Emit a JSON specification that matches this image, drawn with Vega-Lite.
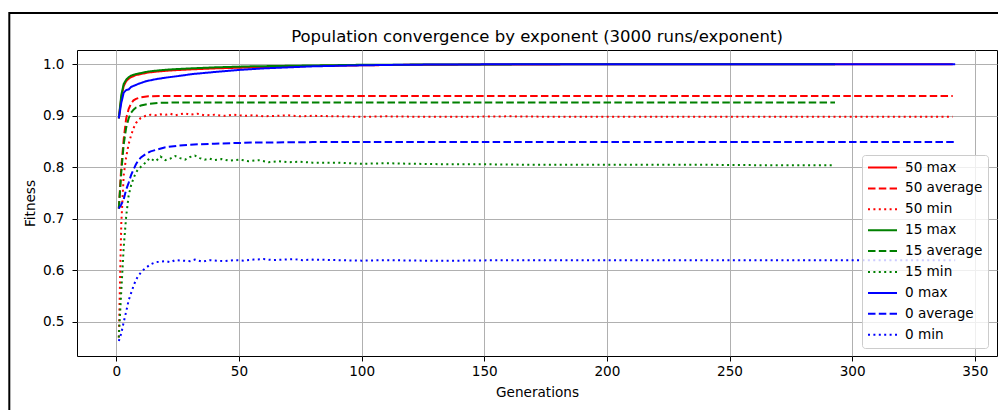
{
  "$schema": "https://vega.github.io/schema/vega-lite/v6.json",
  "width": 920,
  "height": 306,
  "autosize": "none",
  "padding": {"left": 77, "top": 50, "right": 1, "bottom": 54},
  "background": "white",
  "title": {
    "text": "Population convergence by exponent (3000 runs/exponent)",
    "fontSize": 16.5,
    "fontWeight": "normal",
    "font": "DejaVu Sans",
    "color": "black",
    "frame": "group",
    "anchor": "middle",
    "offset": 6,
    "dy": 40
  },
  "config": {
    "font": "DejaVu Sans",
    "view": {"stroke": "black", "strokeWidth": 1},
    "axis": {
      "domain": false,
      "grid": true,
      "gridColor": "#b0b0b0",
      "gridWidth": 1,
      "tickColor": "black",
      "tickSize": 5,
      "tickWidth": 1,
      "labelFont": "DejaVu Sans",
      "labelFontSize": 13.6,
      "labelColor": "black",
      "titleFont": "DejaVu Sans",
      "titleFontSize": 13.6,
      "titleFontWeight": "normal",
      "titleColor": "black"
    }
  },
  "layer": [
    {
      "data": {"values": [{}]},
      "mark": {"type": "rect", "fill": null, "stroke": "black", "strokeWidth": 2, "clip": false},
      "encoding": {
        "x": {"datum": -43.65, "type": "quantitative", "scale": {"domain": [-16.05, 359.05], "nice": false, "zero": false}},
        "x2": {"datum": 420},
        "y": {"datum": 1.0995, "type": "quantitative", "scale": {"domain": [0.434, 1.0277], "nice": false, "zero": false}},
        "y2": {"datum": 0.3}
      }
    },
    {
      "data": {
        "values": [
          {"s":"50 max","g":1,"v":0.895},{"s":"50 max","g":2,"v":0.935},{"s":"50 max","g":3,"v":0.958},{"s":"50 max","g":4,"v":0.967},{"s":"50 max","g":5,"v":0.972},{"s":"50 max","g":6,"v":0.975},{"s":"50 max","g":8,"v":0.979},{"s":"50 max","g":10,"v":0.981},{"s":"50 max","g":13,"v":0.984},{"s":"50 max","g":17,"v":0.986},{"s":"50 max","g":22,"v":0.988},{"s":"50 max","g":30,"v":0.990},{"s":"50 max","g":40,"v":0.992},{"s":"50 max","g":55,"v":0.994},{"s":"50 max","g":70,"v":0.996},{"s":"50 max","g":85,"v":0.997},{"s":"50 max","g":100,"v":0.998},{"s":"50 max","g":120,"v":0.999},{"s":"50 max","g":150,"v":0.9995},{"s":"50 max","g":200,"v":1.0},{"s":"50 max","g":341,"v":1.0},

          {"s":"50 average","g":1,"v":0.72},{"s":"50 average","g":2,"v":0.80},{"s":"50 average","g":3,"v":0.855},{"s":"50 average","g":4,"v":0.895},{"s":"50 average","g":5,"v":0.913},{"s":"50 average","g":6,"v":0.924},{"s":"50 average","g":7,"v":0.930},{"s":"50 average","g":8,"v":0.933},{"s":"50 average","g":10,"v":0.936},{"s":"50 average","g":13,"v":0.938},{"s":"50 average","g":20,"v":0.9385},{"s":"50 average","g":341,"v":0.9385},

          {"s":"50 min","g":1,"v":0.47},{"s":"50 min","g":2,"v":0.69},{"s":"50 min","g":3,"v":0.785},{"s":"50 min","g":4,"v":0.82},{"s":"50 min","g":5,"v":0.845},{"s":"50 min","g":6,"v":0.862},{"s":"50 min","g":7,"v":0.876},{"s":"50 min","g":8,"v":0.886},{"s":"50 min","g":9,"v":0.892},{"s":"50 min","g":10,"v":0.896},{"s":"50 min","g":12,"v":0.900},{"s":"50 min","g":14,"v":0.902},{"s":"50 min","g":16,"v":0.901},{"s":"50 min","g":18,"v":0.903},{"s":"50 min","g":20,"v":0.902},{"s":"50 min","g":22,"v":0.904},{"s":"50 min","g":24,"v":0.901},{"s":"50 min","g":26,"v":0.903},{"s":"50 min","g":28,"v":0.905},{"s":"50 min","g":30,"v":0.902},{"s":"50 min","g":33,"v":0.904},{"s":"50 min","g":36,"v":0.901},{"s":"50 min","g":40,"v":0.902},{"s":"50 min","g":44,"v":0.900},{"s":"50 min","g":48,"v":0.902},{"s":"50 min","g":52,"v":0.900},{"s":"50 min","g":56,"v":0.901},{"s":"50 min","g":60,"v":0.899},{"s":"50 min","g":65,"v":0.900},{"s":"50 min","g":70,"v":0.901},{"s":"50 min","g":75,"v":0.899},{"s":"50 min","g":80,"v":0.900},{"s":"50 min","g":90,"v":0.899},{"s":"50 min","g":100,"v":0.898},{"s":"50 min","g":110,"v":0.899},{"s":"50 min","g":125,"v":0.898},{"s":"50 min","g":140,"v":0.898},{"s":"50 min","g":160,"v":0.899},{"s":"50 min","g":180,"v":0.898},{"s":"50 min","g":200,"v":0.898},{"s":"50 min","g":230,"v":0.898},{"s":"50 min","g":260,"v":0.898},{"s":"50 min","g":300,"v":0.898},{"s":"50 min","g":341,"v":0.898},

          {"s":"15 max","g":1,"v":0.895},{"s":"15 max","g":2,"v":0.94},{"s":"15 max","g":3,"v":0.962},{"s":"15 max","g":4,"v":0.970},{"s":"15 max","g":5,"v":0.975},{"s":"15 max","g":6,"v":0.978},{"s":"15 max","g":8,"v":0.981},{"s":"15 max","g":10,"v":0.983},{"s":"15 max","g":13,"v":0.986},{"s":"15 max","g":17,"v":0.988},{"s":"15 max","g":22,"v":0.990},{"s":"15 max","g":30,"v":0.992},{"s":"15 max","g":40,"v":0.994},{"s":"15 max","g":55,"v":0.996},{"s":"15 max","g":70,"v":0.997},{"s":"15 max","g":85,"v":0.998},{"s":"15 max","g":100,"v":0.999},{"s":"15 max","g":130,"v":0.9995},{"s":"15 max","g":180,"v":1.0},{"s":"15 max","g":293,"v":1.0},

          {"s":"15 average","g":1,"v":0.72},{"s":"15 average","g":2,"v":0.79},{"s":"15 average","g":3,"v":0.845},{"s":"15 average","g":4,"v":0.877},{"s":"15 average","g":5,"v":0.895},{"s":"15 average","g":6,"v":0.906},{"s":"15 average","g":7,"v":0.912},{"s":"15 average","g":8,"v":0.916},{"s":"15 average","g":10,"v":0.920},{"s":"15 average","g":13,"v":0.923},{"s":"15 average","g":17,"v":0.925},{"s":"15 average","g":25,"v":0.926},{"s":"15 average","g":293,"v":0.926},

          {"s":"15 min","g":1,"v":0.47},{"s":"15 min","g":2,"v":0.56},{"s":"15 min","g":3,"v":0.645},{"s":"15 min","g":4,"v":0.705},{"s":"15 min","g":5,"v":0.745},{"s":"15 min","g":6,"v":0.765},{"s":"15 min","g":7,"v":0.779},{"s":"15 min","g":8,"v":0.790},{"s":"15 min","g":9,"v":0.797},{"s":"15 min","g":10,"v":0.801},{"s":"15 min","g":11,"v":0.805},{"s":"15 min","g":12,"v":0.810},{"s":"15 min","g":13,"v":0.815},{"s":"15 min","g":14,"v":0.818},{"s":"15 min","g":15,"v":0.814},{"s":"15 min","g":16,"v":0.812},{"s":"15 min","g":17,"v":0.816},{"s":"15 min","g":18,"v":0.821},{"s":"15 min","g":19,"v":0.818},{"s":"15 min","g":20,"v":0.814},{"s":"15 min","g":22,"v":0.817},{"s":"15 min","g":24,"v":0.822},{"s":"15 min","g":26,"v":0.818},{"s":"15 min","g":28,"v":0.815},{"s":"15 min","g":30,"v":0.820},{"s":"15 min","g":32,"v":0.823},{"s":"15 min","g":34,"v":0.818},{"s":"15 min","g":36,"v":0.815},{"s":"15 min","g":38,"v":0.817},{"s":"15 min","g":40,"v":0.814},{"s":"15 min","g":43,"v":0.816},{"s":"15 min","g":46,"v":0.813},{"s":"15 min","g":50,"v":0.815},{"s":"15 min","g":54,"v":0.812},{"s":"15 min","g":58,"v":0.814},{"s":"15 min","g":62,"v":0.810},{"s":"15 min","g":66,"v":0.812},{"s":"15 min","g":70,"v":0.810},{"s":"15 min","g":75,"v":0.811},{"s":"15 min","g":80,"v":0.809},{"s":"15 min","g":90,"v":0.809},{"s":"15 min","g":100,"v":0.807},{"s":"15 min","g":110,"v":0.808},{"s":"15 min","g":120,"v":0.807},{"s":"15 min","g":135,"v":0.806},{"s":"15 min","g":150,"v":0.806},{"s":"15 min","g":170,"v":0.805},{"s":"15 min","g":190,"v":0.805},{"s":"15 min","g":210,"v":0.805},{"s":"15 min","g":240,"v":0.805},{"s":"15 min","g":270,"v":0.804},{"s":"15 min","g":293,"v":0.804},

          {"s":"0 max","g":1,"v":0.895},{"s":"0 max","g":2,"v":0.925},{"s":"0 max","g":3,"v":0.945},{"s":"0 max","g":4,"v":0.950},{"s":"0 max","g":5,"v":0.951},{"s":"0 max","g":6,"v":0.956},{"s":"0 max","g":7,"v":0.958},{"s":"0 max","g":9,"v":0.962},{"s":"0 max","g":12,"v":0.967},{"s":"0 max","g":16,"v":0.971},{"s":"0 max","g":20,"v":0.974},{"s":"0 max","g":25,"v":0.977},{"s":"0 max","g":31,"v":0.981},{"s":"0 max","g":40,"v":0.985},{"s":"0 max","g":50,"v":0.989},{"s":"0 max","g":60,"v":0.992},{"s":"0 max","g":70,"v":0.994},{"s":"0 max","g":80,"v":0.996},{"s":"0 max","g":90,"v":0.997},{"s":"0 max","g":100,"v":0.998},{"s":"0 max","g":115,"v":0.999},{"s":"0 max","g":130,"v":0.9995},{"s":"0 max","g":160,"v":1.0},{"s":"0 max","g":342,"v":1.0},

          {"s":"0 average","g":1,"v":0.72},{"s":"0 average","g":2,"v":0.728},{"s":"0 average","g":3,"v":0.738},{"s":"0 average","g":4,"v":0.757},{"s":"0 average","g":5,"v":0.770},{"s":"0 average","g":6,"v":0.785},{"s":"0 average","g":7,"v":0.796},{"s":"0 average","g":8,"v":0.806},{"s":"0 average","g":9,"v":0.814},{"s":"0 average","g":10,"v":0.819},{"s":"0 average","g":12,"v":0.826},{"s":"0 average","g":14,"v":0.831},{"s":"0 average","g":17,"v":0.835},{"s":"0 average","g":20,"v":0.839},{"s":"0 average","g":25,"v":0.842},{"s":"0 average","g":30,"v":0.844},{"s":"0 average","g":40,"v":0.846},{"s":"0 average","g":55,"v":0.848},{"s":"0 average","g":80,"v":0.849},{"s":"0 average","g":342,"v":0.849},

          {"s":"0 min","g":1,"v":0.463},{"s":"0 min","g":2,"v":0.478},{"s":"0 min","g":3,"v":0.500},{"s":"0 min","g":4,"v":0.520},{"s":"0 min","g":5,"v":0.542},{"s":"0 min","g":6,"v":0.556},{"s":"0 min","g":7,"v":0.570},{"s":"0 min","g":8,"v":0.582},{"s":"0 min","g":9,"v":0.590},{"s":"0 min","g":10,"v":0.596},{"s":"0 min","g":11,"v":0.601},{"s":"0 min","g":12,"v":0.605},{"s":"0 min","g":14,"v":0.612},{"s":"0 min","g":16,"v":0.616},{"s":"0 min","g":18,"v":0.617},{"s":"0 min","g":20,"v":0.618},{"s":"0 min","g":22,"v":0.616},{"s":"0 min","g":24,"v":0.620},{"s":"0 min","g":27,"v":0.619},{"s":"0 min","g":30,"v":0.618},{"s":"0 min","g":32,"v":0.621},{"s":"0 min","g":35,"v":0.617},{"s":"0 min","g":38,"v":0.620},{"s":"0 min","g":41,"v":0.619},{"s":"0 min","g":44,"v":0.618},{"s":"0 min","g":48,"v":0.620},{"s":"0 min","g":52,"v":0.619},{"s":"0 min","g":56,"v":0.621},{"s":"0 min","g":60,"v":0.622},{"s":"0 min","g":64,"v":0.620},{"s":"0 min","g":68,"v":0.621},{"s":"0 min","g":72,"v":0.622},{"s":"0 min","g":76,"v":0.620},{"s":"0 min","g":80,"v":0.621},{"s":"0 min","g":90,"v":0.620},{"s":"0 min","g":100,"v":0.619},{"s":"0 min","g":110,"v":0.620},{"s":"0 min","g":125,"v":0.619},{"s":"0 min","g":140,"v":0.619},{"s":"0 min","g":160,"v":0.620},{"s":"0 min","g":180,"v":0.620},{"s":"0 min","g":200,"v":0.620},{"s":"0 min","g":230,"v":0.620},{"s":"0 min","g":260,"v":0.620},{"s":"0 min","g":300,"v":0.620},{"s":"0 min","g":342,"v":0.620}
        ]
      },
      "mark": {"type": "line", "strokeWidth": 2, "strokeCap": "butt", "clip": true},
      "encoding": {
        "x": {
          "field": "g",
          "type": "quantitative",
          "scale": {"domain": [-16.05, 359.05], "nice": false, "zero": false},
          "axis": {"title": "Generations", "values": [0, 50, 100, 150, 200, 250, 300, 350], "format": "d", "labelPadding": 3, "titlePadding": 8}
        },
        "y": {
          "field": "v",
          "type": "quantitative",
          "scale": {"domain": [0.434, 1.0277], "nice": false, "zero": false},
          "axis": {"title": "Fitness", "values": [0.5, 0.6, 0.7, 0.8, 0.9, 1.0], "format": ".1f", "labelPadding": 8, "titlePadding": 5}
        },
        "color": {
          "field": "s",
          "type": "nominal",
          "sort": null,
          "scale": {
            "domain": ["50 max", "50 average", "50 min", "15 max", "15 average", "15 min", "0 max", "0 average", "0 min"],
            "range": ["#ff0000", "#ff0000", "#ff0000", "#008000", "#008000", "#008000", "#0000ff", "#0000ff", "#0000ff"]
          },
          "legend": {
            "title": null,
            "orient": "none",
            "legendX": 785,
            "legendY": 105,
            "padding": 5,
            "fillColor": "rgba(255,255,255,0.8)",
            "strokeColor": "#cccccc",
            "cornerRadius": 3,
            "symbolType": "stroke",
            "symbolSize": 841,
            "symbolStrokeWidth": 2,
            "clipHeight": 15,
            "rowPadding": 5.9,
            "labelOffset": 7,
            "labelFont": "DejaVu Sans",
            "labelFontSize": 13.6,
            "labelColor": "black"
          }
        },
        "strokeDash": {
          "field": "s",
          "type": "nominal",
          "sort": null,
          "scale": {
            "domain": ["50 max", "50 average", "50 min", "15 max", "15 average", "15 min", "0 max", "0 average", "0 min"],
            "range": [[1, 0], [7.5, 3.3], [2, 3.4], [1, 0], [7.5, 3.3], [2, 3.4], [1, 0], [7.5, 3.3], [2, 3.4]]
          }
        }
      }
    }
  ]
}
